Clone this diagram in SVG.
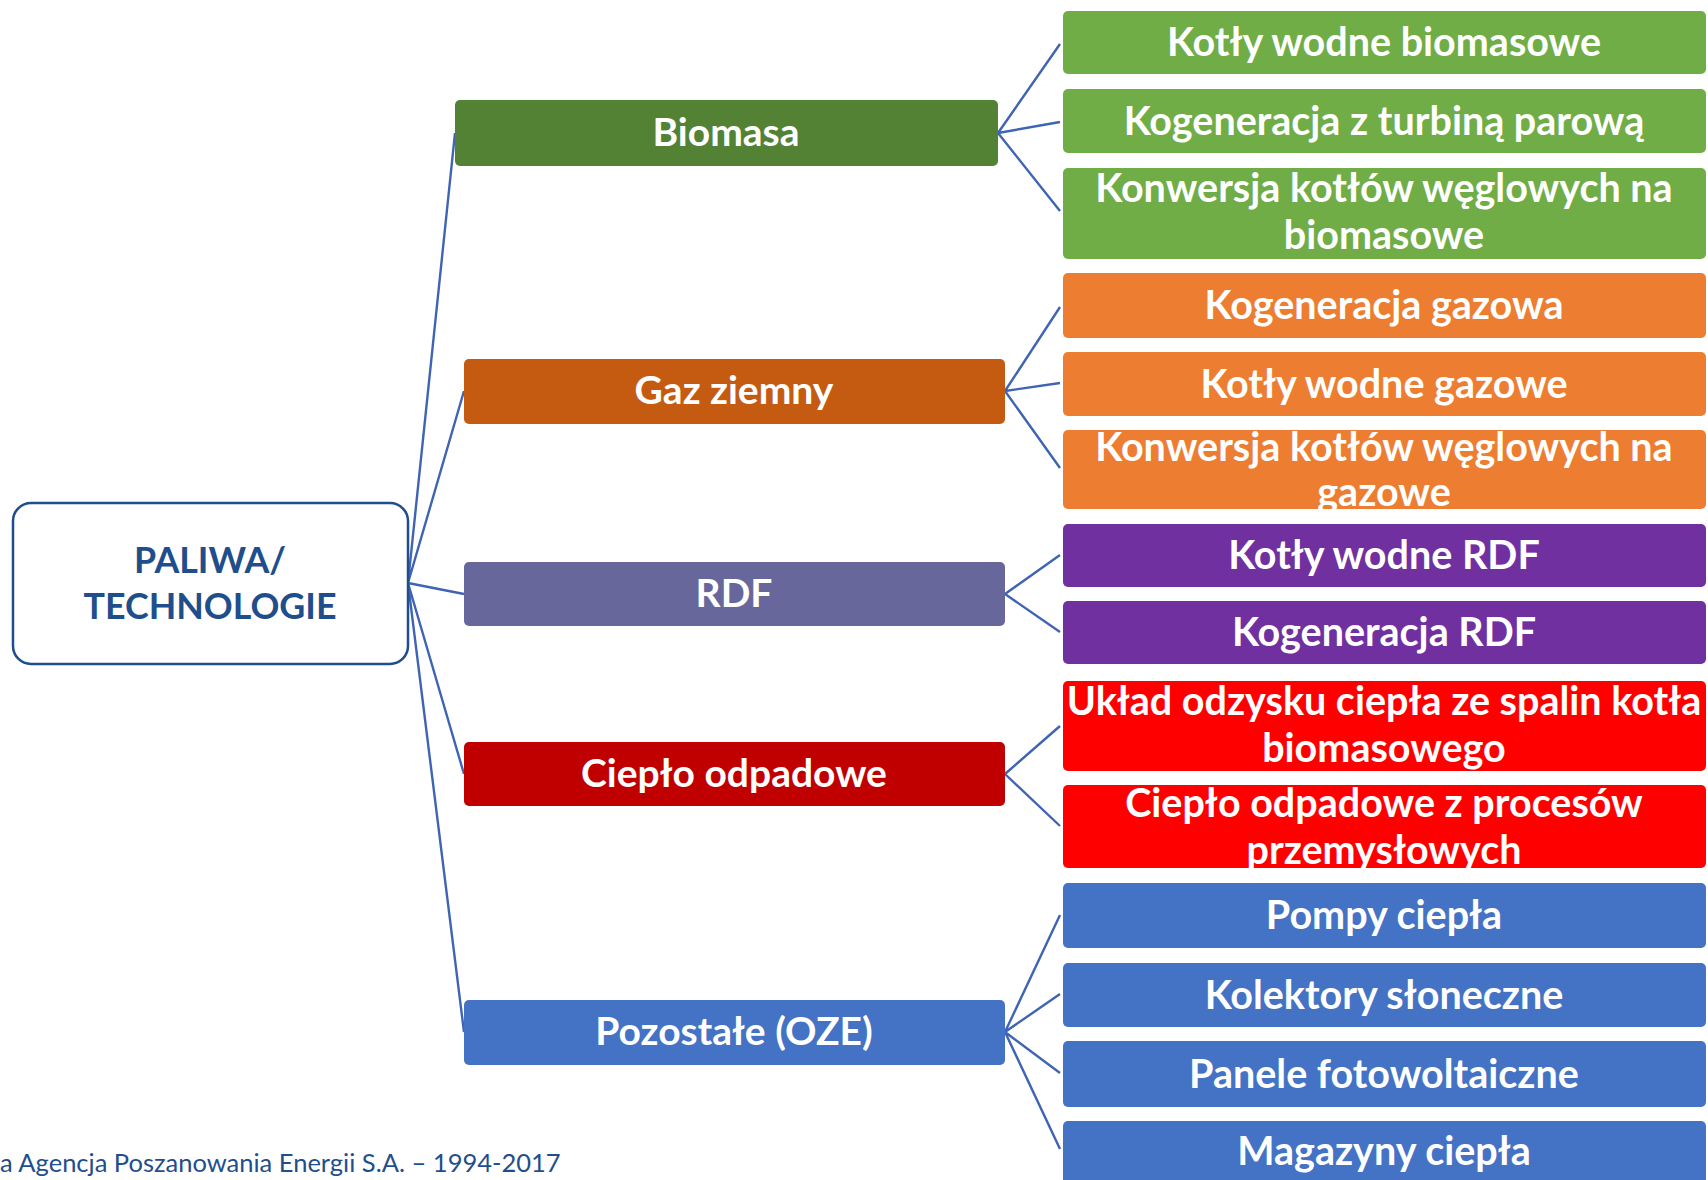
<svg xmlns="http://www.w3.org/2000/svg" width="1708" height="1180" viewBox="0 0 1708 1180">
<style>
.t{font-family:Lato,"Open Sans","Liberation Sans",sans-serif;font-weight:bold;fill:#fff;text-anchor:middle}
.s{font-size:39.5px}
.m{font-size:39px}
.r{font-family:Lato,"Open Sans","Liberation Sans",sans-serif;font-weight:bold;fill:#1F4E8C;text-anchor:middle;font-size:35.8px}
.c{stroke:#3F64B4;stroke-width:2.4;fill:none}
</style>
<rect width="1708" height="1180" fill="#fff"/>
<g id="connectors">
<path class="c" d="M408 583 L455 133 M408 583 L464 391 M408 583 L464 594 M408 583 L464 774 M408 583 L464 1032"/>
<path class="c" d="M998 133 L1060 44 M998 133 L1060 122 M998 133 L1060 211"/>
<path class="c" d="M1005 391 L1060 307 M1005 391 L1060 383 M1005 391 L1060 468"/>
<path class="c" d="M1005 594 L1060 555 M1005 594 L1060 632"/>
<path class="c" d="M1005 774 L1060 726 M1005 774 L1060 826"/>
<path class="c" d="M1005 1032 L1060 915 M1005 1032 L1060 994 M1005 1032 L1060 1073 M1005 1032 L1060 1149"/>
</g>
<g id="root">
<rect x="13" y="503" width="395" height="161" rx="18" fill="#fff" stroke="#1F4E8C" stroke-width="2.5"/>
<text class="r" x="210" y="573">PALIWA/</text>
<text class="r" x="210" y="619">TECHNOLOGIE</text>
</g>
<g id="biomasa"><rect x="455" y="100" width="543" height="66" rx="5" fill="#548235"/><text class="t m" x="726" y="146">Biomasa</text></g>
<g id="gaz"><rect x="464" y="359" width="541" height="65" rx="5" fill="#C55A11"/><text class="t m" x="734" y="404">Gaz ziemny</text></g>
<g id="rdf"><rect x="464" y="562" width="541" height="64" rx="5" fill="#67679B"/><text class="t m" x="734" y="607">RDF</text></g>
<g id="cieplo"><rect x="464" y="742" width="541" height="64" rx="5" fill="#C00000"/><text class="t m" x="734" y="787">Ciepło odpadowe</text></g>
<g id="oze"><rect x="464" y="1000" width="541" height="65" rx="5" fill="#4472C4"/><text class="t m" x="734" y="1045">Pozostałe (OZE)</text></g>
<g id="s1"><rect x="1063" y="11" width="643" height="63" rx="5" fill="#70AD47"/><text class="t s" x="1384" y="56">Kotły wodne biomasowe</text></g>
<g id="s2"><rect x="1063" y="89" width="643" height="64" rx="5" fill="#70AD47"/><text class="t s" x="1384" y="135">Kogeneracja z turbiną parową</text></g>
<g id="s3"><rect x="1063" y="168" width="643" height="91" rx="5" fill="#70AD47"/><text class="t s" x="1384" y="202">Konwersja kotłów węglowych na</text><text class="t s" x="1384" y="249">biomasowe</text></g>
<g id="s4"><rect x="1063" y="273" width="643" height="65" rx="5" fill="#ED7D31"/><text class="t s" x="1384" y="319">Kogeneracja gazowa</text></g>
<g id="s5"><rect x="1063" y="352" width="643" height="64" rx="5" fill="#ED7D31"/><text class="t s" x="1384" y="398">Kotły wodne gazowe</text></g>
<g id="s6"><rect x="1063" y="430" width="643" height="79" rx="5" fill="#ED7D31"/><text class="t s" x="1384" y="461">Konwersja kotłów węglowych na</text><text class="t s" x="1384" y="506">gazowe</text></g>
<g id="s7"><rect x="1063" y="524" width="643" height="63" rx="5" fill="#7030A0"/><text class="t s" x="1384" y="569">Kotły wodne RDF</text></g>
<g id="s8"><rect x="1063" y="601" width="643" height="63" rx="5" fill="#7030A0"/><text class="t s" x="1384" y="646">Kogeneracja RDF</text></g>
<g id="s9"><rect x="1063" y="681" width="643" height="90" rx="5" fill="#FF0000"/><text class="t s" x="1384" y="715">Układ odzysku ciepła ze spalin kotła</text><text class="t s" x="1384" y="762">biomasowego</text></g>
<g id="s10"><rect x="1063" y="785" width="643" height="83" rx="5" fill="#FF0000"/><text class="t s" x="1384" y="817">Ciepło odpadowe z procesów</text><text class="t s" x="1384" y="864">przemysłowych</text></g>
<g id="s11"><rect x="1063" y="883" width="643" height="65" rx="5" fill="#4472C4"/><text class="t s" x="1384" y="929">Pompy ciepła</text></g>
<g id="s12"><rect x="1063" y="963" width="643" height="64" rx="5" fill="#4472C4"/><text class="t s" x="1384" y="1009">Kolektory słoneczne</text></g>
<g id="s13"><rect x="1063" y="1041" width="643" height="66" rx="5" fill="#4472C4"/><text class="t s" x="1384" y="1088">Panele fotowoltaiczne</text></g>
<g id="s14"><rect x="1063" y="1121" width="643" height="70" rx="5" fill="#4472C4"/><text class="t s" x="1384" y="1165">Magazyny ciepła</text></g>
<text x="0" y="1172" font-family="Lato,'Open Sans','Liberation Sans',sans-serif" font-size="25.5" fill="#1F4E8C">a Agencja Poszanowania Energii S.A. – 1994-2017</text>
</svg>
